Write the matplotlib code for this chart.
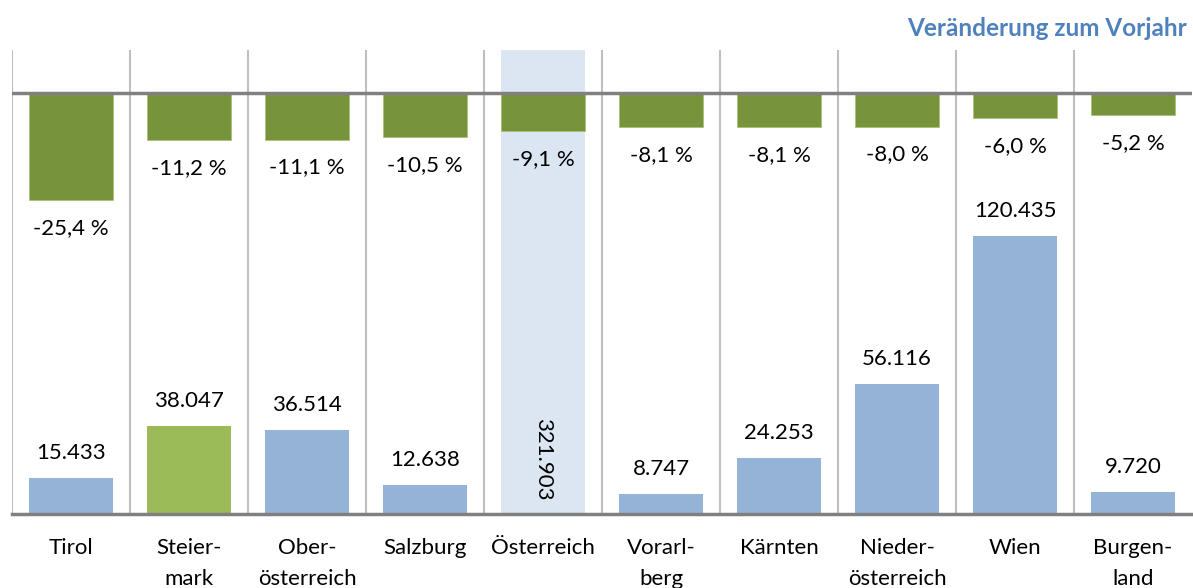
import matplotlib
matplotlib.use("Agg")
import matplotlib.pyplot as plt
import matplotlib.transforms as mtransforms
import numpy as np

plt.rcParams['font.family'] = ['Lato', 'DejaVu Sans']

categories = ["Tirol", "Steier-\nmark", "Ober-\nösterreich", "Salzburg", "Österreich",
              "Vorarl-\nberg", "Kärnten", "Nieder-\nösterreich", "Wien", "Burgen-\nland"]
values = [15433, 38047, 36514, 12638, 321903, 8747, 24253, 56116, 120435, 9720]
changes = [-25.4, -11.2, -11.1, -10.5, -9.1, -8.1, -8.1, -8.0, -6.0, -5.2]
title = "Veränderung zum Vorjahr"

BLUE = '#95B3D7'
colors = [BLUE] * len(values)
colors[1] = '#9BBB59'
colors[4] = '#DCE6F2'

W, H = 1193, 588
fig = plt.figure(figsize=(W / 100, H / 100), dpi=100)
rect = [12 / W, 74 / H, 1180 / W, 464 / H]
axb = fig.add_axes(rect)
axt = fig.add_axes(rect, sharex=axb)
axt.patch.set_visible(False)

x = np.arange(len(categories))
FS = 16

# bottom: absolute values
axb.bar(x, values, width=0.72, color=colors, zorder=2)
axb.set_xlim(-0.5, len(categories) - 0.5)
axb.set_ylim(0, 201000)
for b in np.arange(-0.5, len(categories) - 1, 1.0):
    axb.axvline(b, color='#BFBFBF', lw=1.5, zorder=1)
axb.axhline(0, color='#808080', lw=2.5, clip_on=False, zorder=4)
for i, v in enumerate(values):
    lab = f"{v:,}".replace(",", ".")
    if v > axb.get_ylim()[1]:
        tr = mtransforms.blended_transform_factory(axb.transData, axb.transAxes)
        axb.text(i, 0.1185, lab, transform=tr, rotation=-90, ha='center', va='center',
                 fontsize=FS, color='black', zorder=5)
    else:
        axb.annotate(lab, (i, v), xytext=(0, 18), textcoords='offset points',
                     ha='center', va='center', fontsize=FS, color='black')

axb.set_xticks(x)
axb.set_xticklabels(categories, fontsize=FS, linespacing=1.65)
axb.tick_params(axis='x', length=0, pad=17.5)
axb.set_yticks([])
for s in axb.spines.values():
    s.set_visible(False)

# top: change vs previous year
axt.bar(x, changes, width=0.72, color='#77933C', edgecolor='#A6C178', lw=0.6, zorder=2)
axt.set_ylim(-100, 10.2)
axt.axhline(0, color='#808080', lw=2.5, zorder=4)
for i, c in enumerate(changes):
    lab = f"{c:.1f} %".replace(".", ",")
    axt.annotate(lab, (i, c), xytext=(0, -20), textcoords='offset points',
                 ha='center', va='center', fontsize=FS, color='black')
axt.set_yticks([])
axt.tick_params(axis='x', length=0, labelbottom=False)
for s in axt.spines.values():
    s.set_visible(False)

fig.text(1187 / W, 1 - 29 / H, title, ha='right', va='center', fontsize=17.5,
         fontweight='bold', color='#4F81BD')

fig.savefig("out.png", dpi=100)
